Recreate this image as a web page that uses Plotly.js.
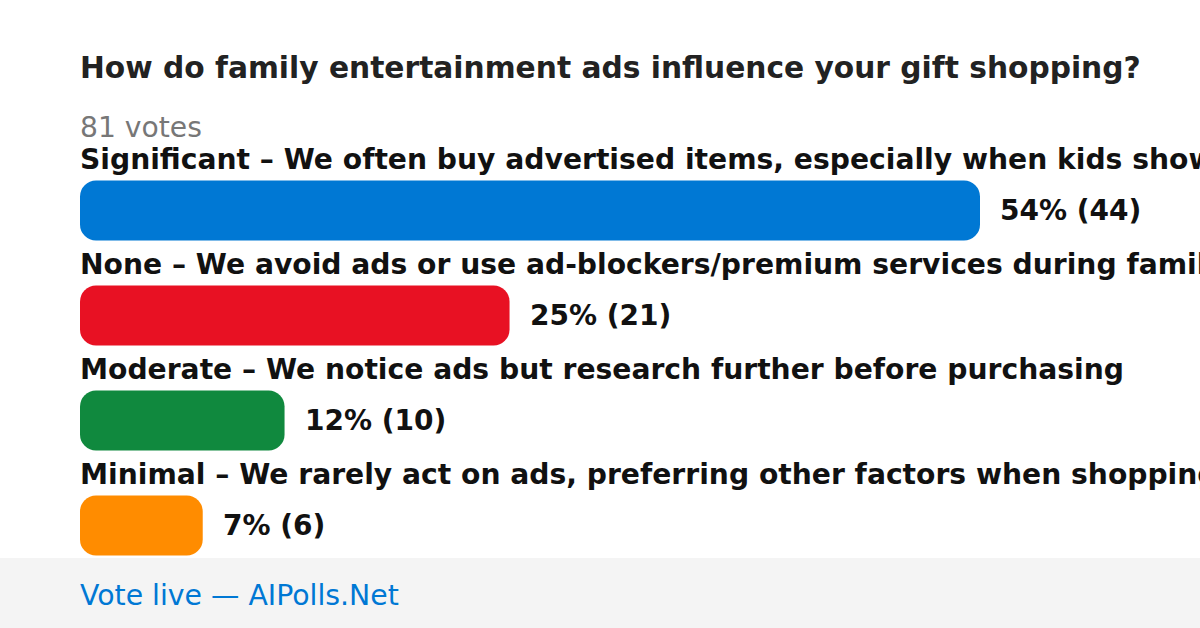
<!DOCTYPE html>
<html>
<head>
<meta charset="utf-8">
<script src="https://cdn.plot.ly/plotly-3.0.1.min.js"></script>
<style>html,body{margin:0;padding:0;background:#fff;}#chart{width:1200px;height:628px;}</style>
</head>
<body>
<div id="chart"></div>
<script>
const categories = [
  "Significant – We often buy advertised items, especially when kids show interest",
  "None – We avoid ads or use ad-blockers/premium services during family viewing",
  "Moderate – We notice ads but research further before purchasing",
  "Minimal – We rarely act on ads, preferring other factors when shopping"
];
const votes = [44, 21, 10, 6];
const percents = [54, 25, 12, 7];
const colors = ["#0078d4", "#e81123", "#10893e", "#ff8c00"];
const totalVotes = 81;
const titleText = "How do family entertainment ads influence your gift shopping?";
const footerText = "Vote live — AIPolls.Net";

const idx = categories.map((_, i) => i);
const FONT = "DejaVu Sans, sans-serif";

// Explicit base makes Plotly treat bars as floating, rounding both ends.
const trace = {
  type: "bar", orientation: "h",
  x: votes, base: 0, y: idx, width: 0.571,
  marker: {color: colors, cornerradius: 16, line: {width: 0}},
  hoverinfo: "skip"
};

const annotations = [];
idx.forEach(i => {
  annotations.push({
    xref: "x", yref: "y", x: 0, y: i, yshift: 51, xshift: -2,
    xanchor: "left", yanchor: "middle", showarrow: false,
    text: "<b>" + categories[i] + "</b>",
    font: {family: FONT, size: 28.2, color: "#111111"}
  });
  annotations.push({
    xref: "x", yref: "y", x: votes[i], y: i, xshift: 18,
    xanchor: "left", yanchor: "middle", showarrow: false,
    text: "<b>" + percents[i] + "% (" + votes[i] + ")</b>",
    font: {family: FONT, size: 28, color: "#111111"}
  });
});
annotations.push({
  xref: "paper", yref: "paper", x: 0, y: 1, yshift: 31, xshift: -2,
  xanchor: "left", yanchor: "middle", showarrow: false,
  text: totalVotes + " votes",
  font: {family: FONT, size: 28.2, color: "#777777"}
});
annotations.push({
  xref: "paper", yref: "paper", x: 0, y: 0, yshift: -17, xshift: -2,
  xanchor: "left", yanchor: "middle", showarrow: false,
  text: footerText,
  font: {family: FONT, size: 28.35, color: "#0078d4"}
});

const layout = {
  width: 1200, height: 628,
  margin: {l: 80, r: 220, t: 158, b: 50, pad: 0},
  paper_bgcolor: "#ffffff", plot_bgcolor: "#ffffff",
  showlegend: false,
  title: {
    text: "<b>" + titleText + "</b>",
    xref: "container", yref: "container",
    x: 80/1200, xanchor: "left",
    y: 1 - 68/628, yanchor: "middle",
    font: {family: FONT, size: 29.7, color: "#222222"}
  },
  xaxis: {range: [0, 44], visible: false, fixedrange: true},
  yaxis: {range: [3.5, -0.5], visible: false, fixedrange: true},
  shapes: [{
    type: "rect", xref: "paper", yref: "paper",
    x0: -80/900, x1: 1 + 220/900,
    y0: -50/420, y1: 20/420,
    fillcolor: "#f4f4f4", line: {width: 0}, layer: "below"
  }],
  annotations: annotations
};

Plotly.newPlot("chart", [trace], layout, {displayModeBar: false, staticPlot: true});
</script>
</body>
</html>
